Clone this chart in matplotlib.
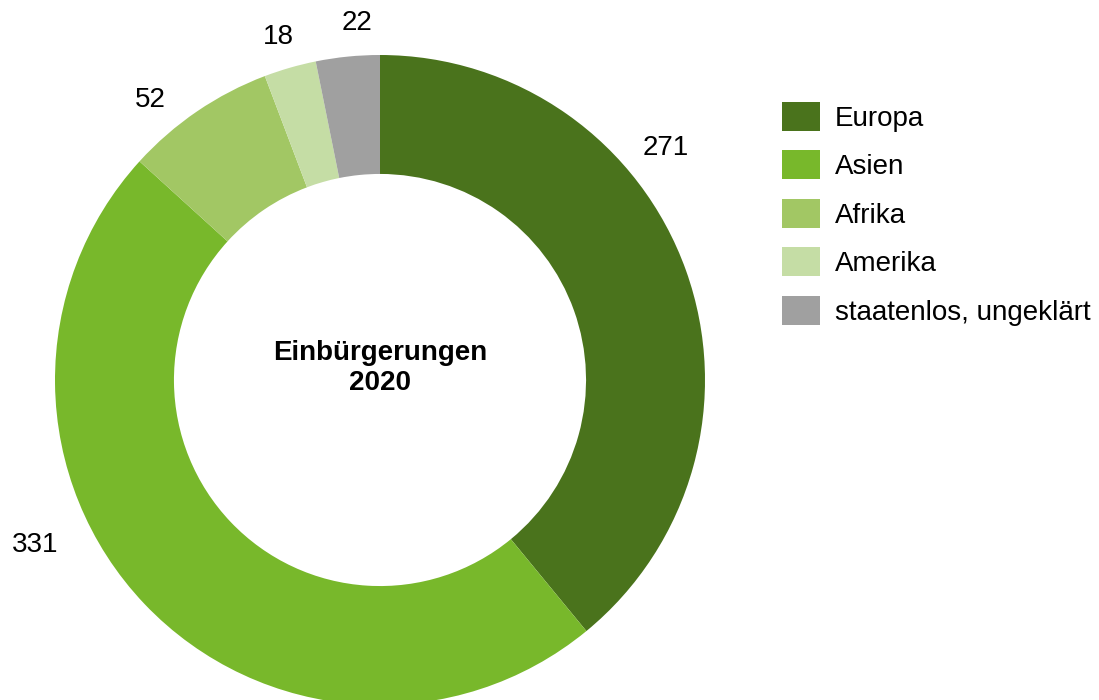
import matplotlib.pyplot as plt

plt.rcParams['font.family'] = ['Liberation Sans', 'DejaVu Sans']

regions = ["Europa", "Asien", "Afrika", "Amerika", "staatenlos, ungeklärt"]
counts = [271, 331, 52, 18, 22]
colors = ["#4a731c", "#78b82b", "#a2c764", "#c5dda5", "#a0a0a0"]
# label positions in pixels (x from left, y from top), placed like the original
label_px = [(666, 148), (35, 545), (150, 100), (278, 37), (357, 23)]

W, H = 1099, 700
fig = plt.figure(figsize=(W / 100, H / 100), dpi=100)
ax = fig.add_axes([0, 0, 1, 1])

cx, cy, r = 380, H - 380, 325
wedges, _ = ax.pie(counts, colors=colors, startangle=90, counterclock=False,
                   center=(cx, cy), radius=r,
                   wedgeprops=dict(width=r * 0.366, linewidth=0))
ax.set_xlim(0, W)
ax.set_ylim(0, H)
ax.set_aspect('equal')
ax.axis('off')

for v, (x, y) in zip(counts, label_px):
    ax.text(x, H - y, str(v), ha='center', va='center', fontsize=20)

ax.text(cx, H - 368, "Einbürgerungen\n2020", ha='center', va='center',
        fontsize=20, fontweight='bold', linespacing=1.22)

ax.legend(wedges, regions, loc='upper left',
          bbox_to_anchor=(782 / W, (H - 102) / H), bbox_transform=fig.transFigure,
          frameon=False, fontsize=20, borderpad=0, borderaxespad=0,
          handlelength=1.37, handleheight=1.23, labelspacing=0.67,
          handletextpad=0.53)

fig.savefig("out.png", dpi=100)
